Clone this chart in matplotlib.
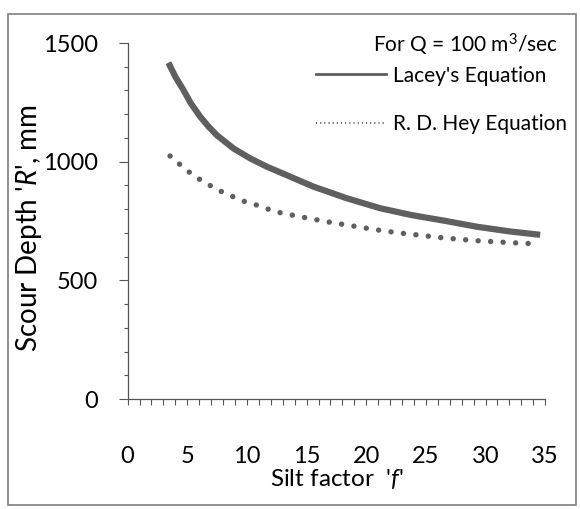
import matplotlib
matplotlib.use("Agg")
import matplotlib.pyplot as plt
from matplotlib.lines import Line2D
from matplotlib.patches import Rectangle
from matplotlib.ticker import MultipleLocator

# --- datos ---
f_lacey = [3.42, 4.0, 4.68, 5.3, 6.08, 6.8, 7.47, 8.87, 10.27, 11.67, 13.3, 15.57,
           18.37, 21.16, 23.8, 26.47, 29.27, 32.06, 34.58]
r_lacey = [1417, 1358, 1302, 1246, 1190, 1147, 1112, 1056, 1014, 979, 944, 895,
           846, 804, 775, 752, 726, 706, 692]

f_hey = [3.56, 4.76, 5.66, 6.69, 7.7, 8.73, 9.71, 10.77, 11.72, 12.7, 14.7, 16.7,
         18.65, 20.6, 22.7, 24.0, 26.47, 29.27, 32.06, 34.58]
r_hey = [1024, 972, 937, 906, 878, 855, 834, 818, 801, 786, 766, 747,
         731, 715, 700, 693, 679, 667, 659, 653]

plt.rcParams['font.family'] = ['Lato', 'DejaVu Sans']
plt.rcParams['mathtext.fontset'] = 'custom'
plt.rcParams['mathtext.rm'] = 'Lato'
plt.rcParams['mathtext.it'] = 'Lato:italic'
gris = '#5f5f5f'

fig = plt.figure(figsize=(5.8, 5.09), dpi=100)
ax = fig.add_axes([0.22, 0.216, 0.72, 0.6995])

ax.plot(f_lacey, r_lacey, color=gris, lw=4.5, solid_capstyle='butt')
ax.plot(f_hey, r_hey, color=gris, lw=3.9, linestyle=(0, (0.01, 2.3)),
        dash_capstyle='round')

ax.set_xlim(0, 35)
ax.set_ylim(0, 1500)
ax.xaxis.set_major_locator(MultipleLocator(5))
ax.xaxis.set_minor_locator(MultipleLocator(1))
ax.yaxis.set_major_locator(MultipleLocator(500))
ax.yaxis.set_minor_locator(MultipleLocator(100))

for s in ['top', 'right']:
    ax.spines[s].set_visible(False)
for s in ['left', 'bottom']:
    ax.spines[s].set_color('#555555')
    ax.spines[s].set_linewidth(0.9)

ax.tick_params(axis='x', which='both', direction='out', length=4, width=0.8,
               color='#555555', labelsize=17, pad=30)
ax.tick_params(axis='y', which='major', direction='out', length=6.5, width=0.8,
               color='#555555', labelsize=17, pad=15)
ax.tick_params(axis='y', which='minor', direction='out', length=3, width=0.8,
               color='#555555')

ax.set_xlabel("Silt factor  '$f$'", fontsize=17.5, labelpad=0)
ax.set_ylabel("Scour Depth '$R$', mm", fontsize=20)
ax.yaxis.set_label_coords(-0.2, 0.48)

# leyenda
h1 = Line2D([], [], color=gris, lw=2)
h2 = Line2D([], [], color=gris, lw=1.5, linestyle=(0, (0.5, 1.5)))
ax.legend([h1, h2], ["Lacey's Equation", "R. D. Hey Equation"],
          loc='center left', bbox_to_anchor=(0.45, 0.84), frameon=False,
          fontsize=15, handlelength=3.4, handletextpad=0.3, borderpad=0,
          borderaxespad=0, labelspacing=1.38)
ax.text(1.03, 0.994, "For Q = 100 m$^3$/sec", transform=ax.transAxes,
        ha='right', va='center', fontsize=15)

# marco exterior
fig.patches.append(Rectangle((0.0138, 0.0079), 0.979, 0.9646, transform=fig.transFigure,
                             fill=False, edgecolor='#888888', lw=1.3))

plt.savefig('out.png', dpi=100)
